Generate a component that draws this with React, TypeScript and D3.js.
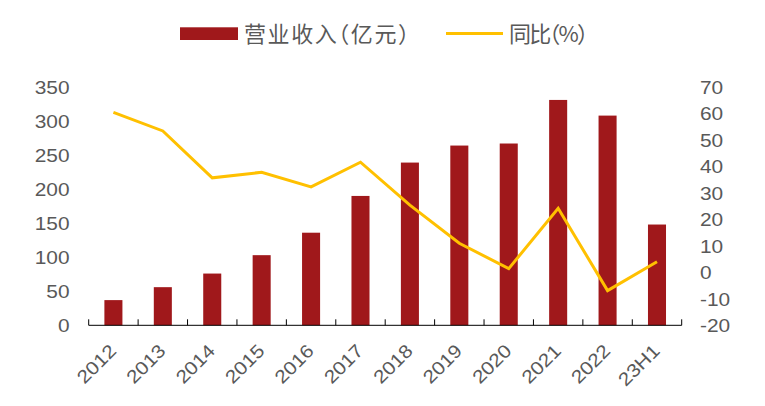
import React from "react";
import * as d3 from "d3";

const categories = ["2012", "2013", "2014", "2015", "2016", "2017", "2018", "2019", "2020", "2021", "2022", "23H1"];
const revenue = [37, 56, 76, 103, 136, 190, 239, 264, 267, 331, 308, 148];
const yoy = [60.4, 53.4, 35.7, 37.8, 32.3, 41.6, 25.4, 11, 1.4, 24.2, -6.9, 4.0];
const leftTicks = [0, 50, 100, 150, 200, 250, 300, 350];
const rightTicks = [-20, -10, 0, 10, 20, 30, 40, 50, 60, 70];

const W = 765;
const H = 406;
const BAR = "#A0181B";
const LINE = "#FFC000";
const TXT = "#595959";
const NUM_FONT = "'Liberation Sans', Arial, sans-serif";
const CJK_FONT = "'Noto Sans CJK SC', sans-serif";

const App: React.FC = () => {
  const x = d3.scaleBand<string>().domain(categories).range([88.7, 681.7]);
  const yL = d3.scaleLinear().domain([0, 350]).range([325.3, 87]);
  const yR = d3.scaleLinear().domain([-20, 70]).range([325.3, 87]);
  const bw = x.bandwidth() * 0.365;
  const cx = (c: string) => (x(c) ?? 0) + x.bandwidth() / 2;

  const line = d3
    .line<number>()
    .x((_, i) => cx(categories[i]))
    .y((d) => yR(d));

  const base = yL(0);
  // tick marks at band edges, including both ends
  const edges = categories.map((c) => x(c) ?? 0).concat([x.range()[1]]);

  const legendStyle = { fontFeatureSettings: '"halt"' };

  return (
    <svg width={W} height={H} style={{ position: "absolute", left: 0, top: 0, background: "#fff" }}>
      {/* legend */}
      <rect x={180} y={27.3} width={58} height={12.7} fill={BAR} />
      <text
        x={244}
        y={41.5}
        fontFamily={CJK_FONT}
        fontSize={22}
        fill={TXT}
        style={legendStyle}
        textLength={165}
        lengthAdjust="spacing"
      >
        营业收入（亿元）
      </text>
      <line x1={446} x2={503} y1={33.5} y2={33.5} stroke={LINE} strokeWidth={3} />
      <text
        x={509}
        y={41.5}
        fontFamily={CJK_FONT}
        fontSize={22}
        fill={TXT}
        style={legendStyle}
        textLength={79}
        lengthAdjust="spacing"
      >
        同比（%）
      </text>

      {/* bars */}
      {categories.map((c, i) => (
        <rect
          key={c}
          x={cx(c) - bw / 2}
          y={yL(revenue[i])}
          width={bw}
          height={base - yL(revenue[i])}
          fill={BAR}
        />
      ))}

      {/* line */}
      <path d={line(yoy) ?? ""} fill="none" stroke={LINE} strokeWidth={3} strokeLinejoin="miter" />

      {/* x axis */}
      <line x1={x.range()[0]} x2={x.range()[1]} y1={base} y2={base} stroke="#000" strokeWidth={1} />
      {edges.map((e, i) => (
        <line key={i} x1={e} x2={e} y1={base} y2={base - 6} stroke="#000" strokeWidth={1} />
      ))}

      {/* x labels */}
      {categories.map((c) => (
        <text
          key={c}
          transform={`translate(${cx(c) + 4},352) rotate(-45) scale(1.13,1)`}
          textAnchor="end"
          fontFamily={NUM_FONT}
          fontSize={18.5}
          fill={TXT}
        >
          {c}
        </text>
      ))}

      {/* left axis labels */}
      {leftTicks.map((t) => (
        <text
          key={t}
          transform={`translate(69.5,${yL(t) + 6.7}) scale(1.13,1)`}
          textAnchor="end"
          fontFamily={NUM_FONT}
          fontSize={18.5}
          fill={TXT}
        >
          {t}
        </text>
      ))}

      {/* right axis labels */}
      {rightTicks.map((t) => (
        <text
          key={t}
          transform={`translate(700,${yR(t) + 6.7}) scale(1.13,1)`}
          textAnchor="start"
          fontFamily={NUM_FONT}
          fontSize={18.5}
          fill={TXT}
        >
          {t}
        </text>
      ))}
    </svg>
  );
};

export default App;
